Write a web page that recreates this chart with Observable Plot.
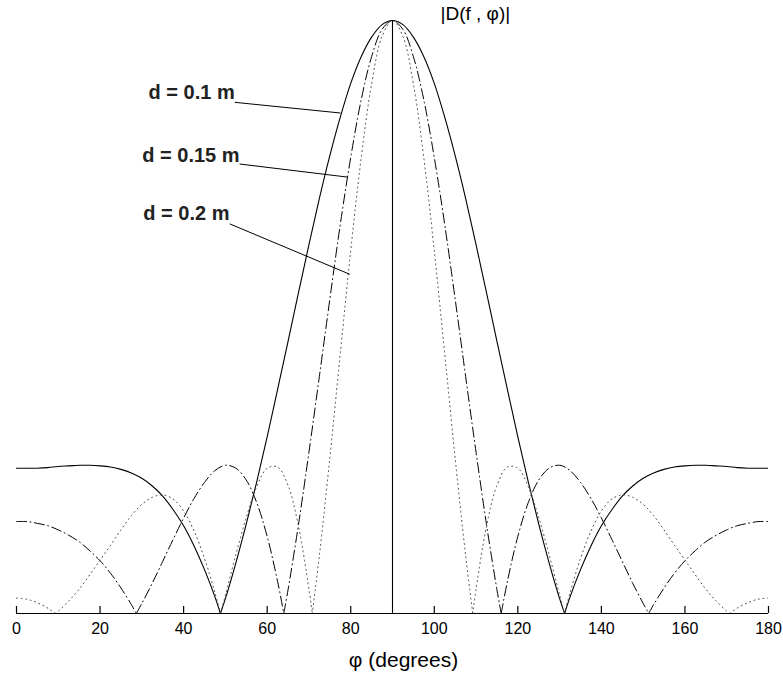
<!DOCTYPE html>
<html>
<head>
<meta charset="utf-8">
<script src="https://cdn.jsdelivr.net/npm/d3@7"></script>
<script src="https://cdn.jsdelivr.net/npm/@observablehq/plot@0.6"></script>
<style>
  html, body { margin: 0; padding: 0; background: #fff; }
  #chart svg { display: block; }
</style>
</head>
<body>
<div id="chart"></div>
<script>
// angle grid (degrees)
const phi = [0,2.5,5,7.5,10,12.5,15,17.5,20,22.5,25,27.5,30,32.5,35,37.5,40,42.5,45,47.5,50,52.5,55,57.5,60,62.5,65,67.5,70,72.5,75,77.5,80,82.5,85,87.5,90,
  92.5,95,97.5,100,102.5,105,107.5,110,112.5,115,117.5,120,122.5,125,127.5,130,132.5,135,137.5,140,142.5,145,147.5,150,152.5,155,157.5,160,162.5,165,167.5,170,172.5,175,177.5,180];

// |D(f,phi)|, d = 0.1 m (solid)
const d010 = [0.245,0.245,0.245,0.246,0.248,0.249,0.250,0.250,0.249,0.247,0.243,0.237,0.228,0.215,0.198,0.175,0.148,0.114,0.074,0.028,0.025,0.085,0.151,0.222,0.298,0.378,0.459,0.541,0.622,0.700,0.772,0.837,0.894,0.939,0.972,0.993,1,
  0.993,0.972,0.939,0.894,0.837,0.772,0.700,0.622,0.541,0.459,0.378,0.298,0.222,0.151,0.085,0.025,0.028,0.074,0.114,0.148,0.175,0.198,0.215,0.228,0.237,0.243,0.247,0.249,0.250,0.250,0.249,0.248,0.246,0.245,0.245,0.245];
// d = 0.15 m (dash-dot)
const d015 = [0.155,0.155,0.152,0.148,0.141,0.132,0.121,0.106,0.089,0.068,0.043,0.015,0.017,0.051,0.088,0.125,0.161,0.194,0.221,0.241,0.250,0.245,0.225,0.187,0.130,0.054,0.040,0.150,0.272,0.400,0.530,0.656,0.769,0.866,0.939,0.985,1,
  0.985,0.939,0.866,0.769,0.656,0.530,0.400,0.272,0.150,0.040,0.054,0.130,0.187,0.225,0.245,0.250,0.241,0.221,0.194,0.161,0.125,0.088,0.051,0.017,0.015,0.043,0.068,0.089,0.106,0.121,0.132,0.141,0.148,0.152,0.155,0.155];
// d = 0.2 m (dotted)
const d020 = [0.026,0.024,0.018,0.009,0.004,0.021,0.041,0.065,0.090,0.115,0.141,0.165,0.184,0.196,0.200,0.193,0.173,0.139,0.093,0.035,0.031,0.099,0.162,0.214,0.245,0.247,0.216,0.147,0.041,0.098,0.262,0.438,0.612,0.768,0.893,0.973,1,
  0.973,0.893,0.768,0.612,0.438,0.262,0.098,0.041,0.147,0.216,0.247,0.245,0.214,0.162,0.099,0.031,0.035,0.093,0.139,0.173,0.193,0.200,0.196,0.184,0.165,0.141,0.115,0.090,0.065,0.041,0.021,0.004,0.009,0.018,0.024,0.026];

// angles of the zeros
const nulls010 = [48.8, 131.2];
const nulls015 = [28.67, 63.98, 116.02, 151.33];
const nulls020 = [9.25, 48.85, 70.79, 109.21, 131.15, 170.75];

const xTicks = [0,20,40,60,80,100,120,140,160,180];

// curve labels: text anchor point, leader start, leader end (data units)
const labelText = ["d = 0.1 m", "d = 0.15 m", "d = 0.2 m"];
const labelPhi = [31.6, 30.1, 30.35];
const labelVal = [0.879, 0.773, 0.675];
const leadPhi1 = [52.25, 53.4, 51.05];
const leadVal1 = [0.862, 0.758, 0.657];
const leadPhi2 = [77.55, 79.15, 79.8];
const leadVal2 = [0.844, 0.736, 0.572];

function buildSeries(values, zeros) {
  const pts = phi.map((p, i) => ({phi: p, v: values[i], zero: false}))
    .concat(zeros.map(p => ({phi: p, v: 0, zero: true})))
    .sort((a, b) => a.phi - b.phi);
  const out = [];
  let seg = 0;
  for (const p of pts) {
    out.push({phi: p.phi, v: p.v, seg});
    if (p.zero) { seg++; out.push({phi: p.phi, v: p.v, seg}); }
  }
  return out;
}

const s010 = buildSeries(d010, nulls010);
const s015 = buildSeries(d015, nulls015);
const s020 = buildSeries(d020, nulls020);

const labels = labelText.map((t, i) => ({t, x: labelPhi[i], y: labelVal[i],
  x1: leadPhi1[i], y1: leadVal1[i], x2: leadPhi2[i], y2: leadVal2[i]}));

const plot = Plot.plot({
  width: 783,
  height: 675,
  marginTop: 20,
  marginBottom: 62,
  marginLeft: 16,
  marginRight: 15,
  style: {fontFamily: "'Liberation Sans', Arial, sans-serif", background: "#fff", color: "#000"},
  x: {domain: [0, 180]},
  y: {domain: [0, 1], axis: null},
  marks: [
    Plot.ruleX([90], {y1: 0, y2: 1, stroke: "#000", strokeWidth: 1.1}),
    Plot.line(s010, {x: "phi", y: "v", z: "seg", curve: "catmull-rom", stroke: "#000", strokeWidth: 1.1, clip: true}),
    Plot.line(s015, {x: "phi", y: "v", z: "seg", curve: "catmull-rom", stroke: "#000", strokeWidth: 1, strokeDasharray: "10,3.5,1,3.5", clip: true}),
    Plot.line(s020, {x: "phi", y: "v", z: "seg", curve: "catmull-rom", stroke: "#444", strokeWidth: 1, strokeDasharray: "1,3.6", clip: true}),
    Plot.link(labels, {x1: "x1", y1: "y1", x2: "x2", y2: "y2", stroke: "#000", strokeWidth: 1}),
    Plot.text(labels, {x: "x", y: "y", text: "t", textAnchor: "start", lineAnchor: "middle", fontSize: 20, fontWeight: "bold", fill: "#222"}),
    Plot.ruleX(xTicks, {y1: 0, y2: 0, insetTop: -7, stroke: "#000", strokeWidth: 1.2}),
    Plot.ruleY([0], {stroke: "#000", strokeWidth: 1.2}),
    Plot.axisX(xTicks, {tickSize: 0, tickPadding: 9, fontSize: 16, label: null}),
    Plot.text(["φ (degrees)"], {frameAnchor: "bottom", dx: 11, dy: 47, lineAnchor: "middle", fontSize: 21, fill: "#000"}),
    Plot.text(["|D(f , φ)|"], {frameAnchor: "top", dx: 48, dy: -7, textAnchor: "start", lineAnchor: "middle", fontSize: 19, fill: "#000"})
  ]
});
document.getElementById("chart").appendChild(plot);
</script>
</body>
</html>
